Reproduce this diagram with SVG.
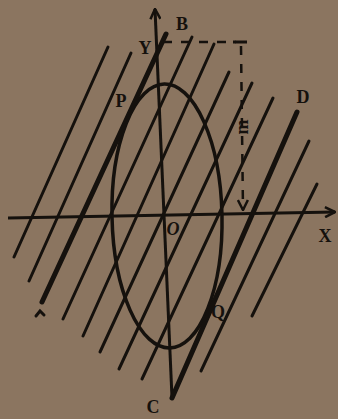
<svg xmlns="http://www.w3.org/2000/svg" width="338" height="419" viewBox="0 0 338 419">
<style>
.bg{fill:#8b7560}
.ln{stroke:#15110d;stroke-width:3;stroke-linecap:round;fill:none}
.tk{stroke:#15110d;stroke-width:5;stroke-linecap:round;fill:none}
.ax{stroke:#15110d;stroke-width:3;fill:none}
.ds{stroke:#15110d;stroke-width:2.5;fill:none;stroke-dasharray:9 9}
.lb{font-family:"Liberation Serif","DejaVu Serif",serif;font-weight:bold;font-size:18px;fill:#15110d}
</style>
<defs>
<marker id="arr" viewBox="0 0 12 12" refX="11" refY="6" markerWidth="12" markerHeight="12" markerUnits="userSpaceOnUse" orient="auto">
<path d="M1,1 L11,6 L1,11" fill="none" stroke="#15110d" stroke-width="2.5"/>
</marker>
</defs>
<rect class="bg" x="0" y="0" width="338" height="419"/>
<g id="ellipse">
<ellipse cx="167" cy="216" rx="55" ry="132" transform="rotate(-1.2 167 216)" fill="none" stroke="#15110d" stroke-width="3.5"/>
</g>
<g id="connectors">
<line class="ax" x1="8" y1="218" x2="335" y2="212" marker-end="url(#arr)"/>
<line class="ax" x1="172" y1="398" x2="155" y2="9" marker-end="url(#arr)"/>
<line class="ln" x1="108" y1="47" x2="14" y2="257"/>
<line class="ln" x1="131" y1="53" x2="29" y2="281"/>
<line class="tk" x1="166" y1="34" x2="42" y2="302"/>
<line class="ln" x1="192" y1="37" x2="63" y2="319"/>
<line class="ln" x1="214" y1="44" x2="83" y2="336"/>
<line class="ln" x1="229" y1="72" x2="100" y2="352"/>
<line class="ln" x1="252" y1="83" x2="119" y2="369"/>
<line class="ln" x1="273" y1="98" x2="142" y2="379"/>
<line class="tk" x1="297" y1="112" x2="172" y2="398"/>
<line class="ln" x1="309" y1="141" x2="201" y2="371"/>
<line class="ln" x1="317" y1="184" x2="252" y2="316"/>
<line class="ds" x1="163" y1="42" x2="236" y2="42"/>
<line class="ds" x1="241" y1="46" x2="243" y2="210" marker-end="url(#arr)"/>
<line class="ax" x1="233" y1="42" x2="247" y2="42"/>
<polyline class="ln" stroke-width="2" points="36,316 40,311 44,315"/>
</g>
<g id="labels">
<text class="lb" x="145" y="54" text-anchor="middle">Y</text>
<text class="lb" x="182" y="30" text-anchor="middle">B</text>
<text class="lb" x="121" y="107" text-anchor="middle">P</text>
<text class="lb" x="303" y="103" text-anchor="middle">D</text>
<text class="lb" x="173" y="235" text-anchor="middle" font-style="italic" font-weight="normal">O</text>
<text class="lb" x="325" y="242" text-anchor="middle">X</text>
<text class="lb" x="218" y="318" text-anchor="middle">Q</text>
<text class="lb" x="153" y="413" text-anchor="middle">C</text>
<text class="lb" x="0" y="0" font-size="15" text-anchor="middle" transform="translate(248 127) rotate(-90)">m</text>
</g>
</svg>
